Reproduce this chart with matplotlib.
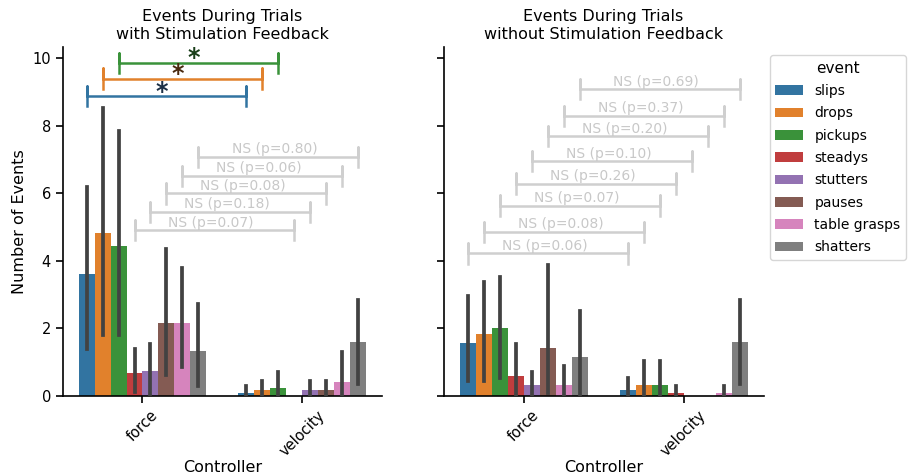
import numpy as np
import matplotlib.pyplot as plt

# data
controllers = ["force", "velocity"]
events = ["slips", "drops", "pickups", "steadys", "stutters", "pauses", "table grasps", "shatters"]
colors = ["#3274a1", "#e1812c", "#3a923a", "#c03d3e", "#9372b2", "#845b53", "#d684bd", "#7f7f7f"]

# with stimulation feedback: rows = controller, cols = event
with_mean = [[3.6, 4.83, 4.43, 0.67, 0.73, 2.17, 2.17, 1.33],
             [0.08, 0.17, 0.25, 0.0, 0.17, 0.17, 0.42, 1.6]]
with_lo = [[1.4, 1.8, 1.8, 0.13, 0.05, 0.62, 0.87, 0.3],
           [0.0, 0.0, 0.0, 0.0, 0.0, 0.0, 0.0, 0.35]]
with_hi = [[6.2, 8.53, 7.86, 1.39, 1.54, 4.35, 3.78, 2.72],
           [0.3, 0.45, 0.7, 0.0, 0.45, 0.45, 1.29, 2.84]]

# without stimulation feedback
without_mean = [[1.58, 1.83, 2.0, 0.58, 0.33, 1.42, 0.33, 1.17],
                [0.17, 0.33, 0.33, 0.08, 0.0, 0.0, 0.08, 1.6]]
without_lo = [[0.45, 0.45, 0.54, 0.0, 0.0, 0.08, 0.0, 0.0],
              [0.0, 0.0, 0.0, 0.0, 0.0, 0.0, 0.0, 0.35]]
without_hi = [[2.96, 3.38, 3.53, 1.54, 0.7, 3.88, 0.88, 2.53],
              [0.54, 1.03, 1.03, 0.3, 0.0, 0.0, 0.3, 2.84]]

# significance brackets (event index, height, label)
with_sig = [(0, 8.88, "*"), (1, 9.4, "*"), (2, 9.87, "*"),
            (3, 4.91, "NS (p=0.07)"), (4, 5.45, "NS (p=0.18)"), (5, 6.0, "NS (p=0.08)"),
            (6, 6.52, "NS (p=0.06)"), (7, 7.08, "NS (p=0.80)")]
without_sig = [(0, 4.22, "NS (p=0.06)"), (1, 4.86, "NS (p=0.08)"), (2, 5.64, "NS (p=0.07)"),
               (3, 6.29, "NS (p=0.26)"), (4, 6.95, "NS (p=0.10)"), (5, 7.69, "NS (p=0.20)"),
               (6, 8.29, "NS (p=0.37)"), (7, 9.08, "NS (p=0.69)")]
star_colors = ["#1c2f45", "#4a2a10", "#1a3f1a"]

plt.rcParams['font.family'] = 'DejaVu Sans'

fig = plt.figure(figsize=(9.09, 4.76), dpi=100)
ax1 = fig.add_axes([0.069, 0.168, 0.351, 0.733])
ax2 = fig.add_axes([0.488, 0.168, 0.352, 0.733], sharey=ax1)

n = len(events)
w = 0.8 / n


def bar_x(ci, ei):
    return ci - 0.4 + w * (ei + 0.5)


def draw(ax, mean, lo, hi, sig, title):
    for ei, ev in enumerate(events):
        xs = [bar_x(ci, ei) for ci in range(len(controllers))]
        hs = [mean[ci][ei] for ci in range(len(controllers))]
        ax.bar(xs, hs, width=w, color=colors[ei], label=ev, zorder=2)
        for ci in range(len(controllers)):
            if hi[ci][ei] > 0:
                ax.plot([xs[ci], xs[ci]], [lo[ci][ei], hi[ci][ei]], color="#424242",
                        lw=2.7, zorder=3)
    for ei, y, lab in sig:
        x0, x1 = bar_x(0, ei), bar_x(1, ei)
        if lab == "*":
            c = colors[ei]
            ax.plot([x0, x0, x0, x1, x1, x1], [y - 0.3, y + 0.3, y, y, y + 0.3, y - 0.3],
                    color=c, lw=1.8, zorder=4)
            ax.text((x0 + x1) / 2 - 0.03, y - 0.22, "*", ha="center", va="bottom",
                    fontsize=17, fontweight="bold", color=star_colors[ei], zorder=5)
        else:
            ax.plot([x0, x0, x0, x1, x1, x1], [y - 0.3, y + 0.3, y, y, y + 0.3, y - 0.3],
                    color="#cfcfcf", lw=1.8, zorder=4)
            ax.text((x0 + x1) / 2 - 0.02, y + 0.02, lab, ha="center", va="bottom",
                    fontsize=10, color="#c8c8c8", zorder=5)
    ax.set_xlim(-0.5, 1.5)
    ax.set_ylim(0, 10.33)
    ax.set_xticks(range(len(controllers)))
    ax.set_xticklabels(controllers, rotation=45, fontsize=10.5)
    ax.set_yticks([0, 2, 4, 6, 8, 10])
    ax.tick_params(axis='both', labelsize=10.5, length=5, width=1.2)
    ax.set_xlabel("Controller", fontsize=11.5, labelpad=1)
    ax.set_title(title, fontsize=11.5)
    for s in ["top", "right"]:
        ax.spines[s].set_visible(False)
    for s in ["left", "bottom"]:
        ax.spines[s].set_linewidth(1.2)


draw(ax1, with_mean, with_lo, with_hi, with_sig,
     "Events During Trials\nwith Stimulation Feedback")
draw(ax2, without_mean, without_lo, without_hi, without_sig,
     "Events During Trials\nwithout Stimulation Feedback")
ax1.set_ylabel("Number of Events", fontsize=11.5)
plt.setp(ax2.get_yticklabels(), visible=False)

handles, labels = ax1.get_legend_handles_labels()
fig.legend(handles, labels, title="event", loc="upper left",
           bbox_to_anchor=(0.847, 0.884), borderaxespad=0, fontsize=10,
           title_fontsize=11, labelspacing=0.6, frameon=True)

fig.savefig("out.png", dpi=100)
